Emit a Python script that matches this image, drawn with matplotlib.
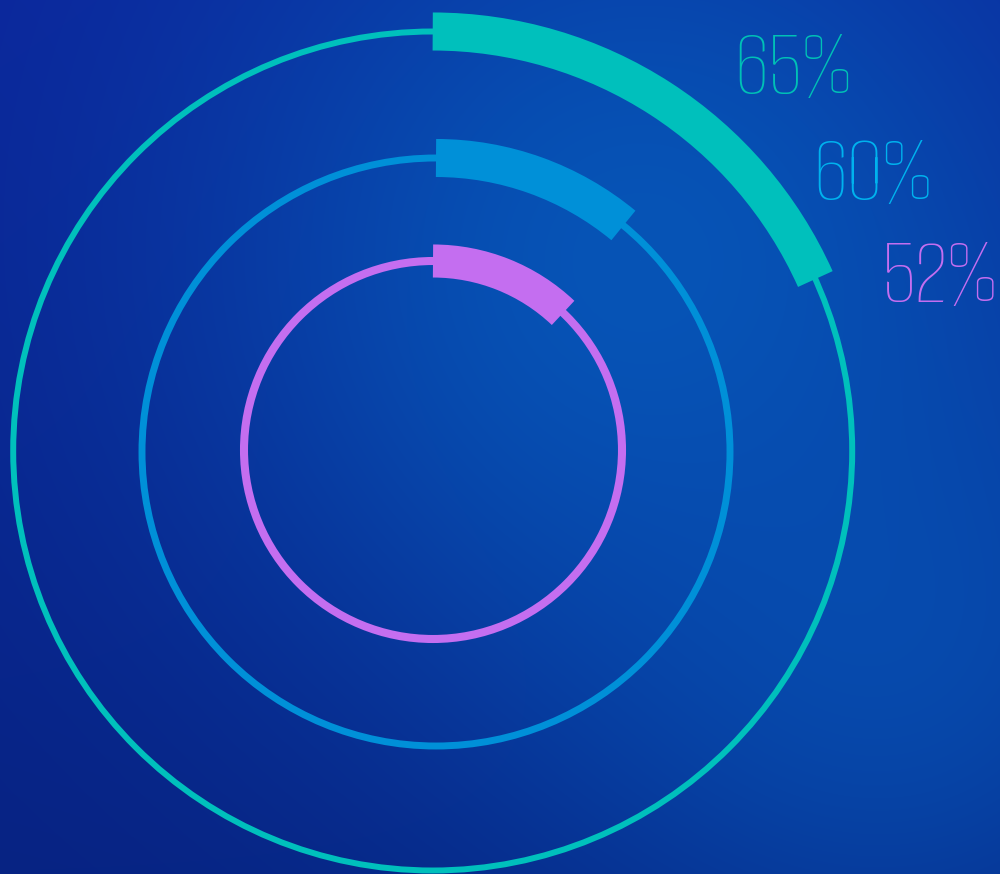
import matplotlib
matplotlib.use("Agg")
import matplotlib.pyplot as plt
from matplotlib.patches import Arc, Circle
import numpy as np

# Ring data (outer -> inner)
labels_pct = [65, 60, 52]
ring_colors = ["#00c0bc", "#0090d8", "#c46ef0"]
label_colors = ["#00c0b6", "#00b2ee", "#c46ef0"]
# Highlighted arc extent, degrees clockwise from 12 o'clock
arc_span_deg = [65.8, 39.6, 43.5]

W, H = 1000, 874
fig = plt.figure(figsize=(W / 100, H / 100), dpi=100)
ax = fig.add_axes([0, 0, 1, 1])
ax.set_xlim(0, W)
ax.set_ylim(0, H)
ax.axis("off")

# Blue background: navy base with two soft glows (screen-blended)
yy, xx = np.mgrid[0:H, 0:W].astype(float)
g1 = np.exp(-((xx - 640) ** 2 + (yy - 260) ** 2) / 450.0 ** 2)
g2 = 0.7 * np.exp(-((xx - 900) ** 2 + (yy - 650) ** 2) / 350.0 ** 2)
w = (1 - (1 - g1) * (1 - g2))[..., None]
t = (yy / H)[..., None]
top = np.array([12, 36, 154]) / 255.0
bottom = np.array([7, 34, 130]) / 255.0
base = top * (1 - t) + bottom * t
bright = np.array([6, 84, 182]) / 255.0
bg = base * (1 - w) + bright * w
ax.imshow(bg, extent=(0, W, 0, H), origin="upper", zorder=0, aspect="auto")

centers = [(432.7, 423.0), (436.0, 422.0), (433.0, 424.0)]
radii = [419.5, 294.0, 189.0]
ring_lw = [4.3, 5.0, 5.8]
arc_lw = [27.4, 27.4, 23.8]

for c, r, col, lw, alw, span in zip(centers, radii, ring_colors, ring_lw, arc_lw, arc_span_deg):
    ax.add_patch(Circle(c, r, fill=False, edgecolor=col, lw=lw, zorder=2))
    ax.add_patch(Arc(c, 2 * r, 2 * r, theta1=90 - span, theta2=90,
                     edgecolor=col, lw=alw, capstyle="butt", zorder=3))

# Percentage labels
label_xy = [(793.5, 780.0), (872.5, 674.5), (940.0, 572.5)]
for (x, y), v, col in zip(label_xy, labels_pct, label_colors):
    ax.text(x, y, f"{v}%", color=col, fontsize=68, ha="center", va="baseline",
            family=["Smooch Sans", "DejaVu Sans"], zorder=4)

fig.savefig("out.png", dpi=100)
